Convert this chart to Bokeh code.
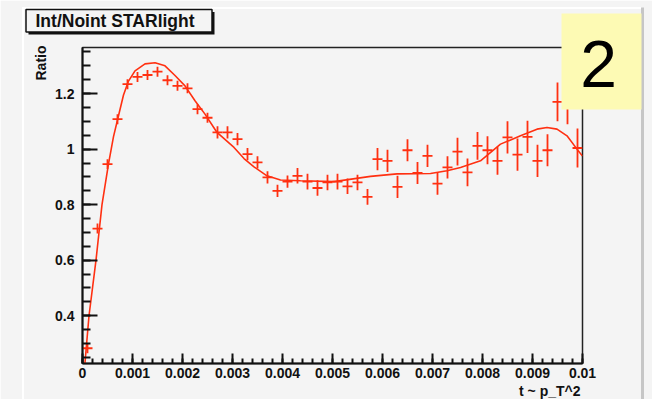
import numpy as np
from bokeh.plotting import figure
from bokeh.models import ColumnDataSource, FixedTicker, CustomJSTickFormatter, Range1d
from bokeh.core.properties import value
from bokeh.embed import file_html
from bokeh.resources import INLINE

# ---- data ----
bin_centers = [0.0001, 0.0003, 0.0005, 0.0007, 0.0009, 0.0011, 0.0013, 0.0015, 0.0017, 0.0019,
               0.0021, 0.0023, 0.0025, 0.0027, 0.0029, 0.0031, 0.0033, 0.0035, 0.0037, 0.0039,
               0.0041, 0.0043, 0.0045, 0.0047, 0.0049, 0.0051, 0.0053, 0.0055, 0.0057, 0.0059,
               0.0061, 0.0063, 0.0065, 0.0067, 0.0069, 0.0071, 0.0073, 0.0075, 0.0077, 0.0079,
               0.0081, 0.0083, 0.0085, 0.0087, 0.0089, 0.0091, 0.0093, 0.0095, 0.0097, 0.0099]
bin_half_width = 0.0001
ratio = [0.283, 0.714, 0.946, 1.108, 1.234, 1.260, 1.267, 1.279, 1.248, 1.228,
         1.219, 1.144, 1.113, 1.060, 1.060, 1.036, 0.982, 0.952, 0.898, 0.850,
         0.883, 0.904, 0.883, 0.860, 0.880, 0.883, 0.866, 0.880, 0.828, 0.964,
         0.958, 0.864, 0.996, 0.914, 0.976, 0.876, 0.934, 0.991, 0.916, 1.012,
         0.996, 0.958, 1.042, 0.980, 1.044, 0.958, 0.996, 1.170, 1.160, 1.004]
ratio_err = [0.018, 0.018, 0.018, 0.018, 0.018, 0.018, 0.018, 0.018, 0.018, 0.018,
             0.018, 0.018, 0.018, 0.022, 0.022, 0.022, 0.022, 0.022, 0.022, 0.022,
             0.022, 0.028, 0.028, 0.028, 0.028, 0.028, 0.028, 0.028, 0.028, 0.040,
             0.040, 0.040, 0.040, 0.040, 0.040, 0.040, 0.040, 0.050, 0.050, 0.050,
             0.050, 0.050, 0.058, 0.058, 0.058, 0.058, 0.058, 0.070, 0.070, 0.070]

fit_x = [0.00004, 0.00013, 0.00027, 0.00039, 0.00052, 0.00062, 0.00072, 0.00082, 0.00092,
         0.00105, 0.00125, 0.00145, 0.00165, 0.00185, 0.00205, 0.00225, 0.00245, 0.00269,
         0.00303, 0.00323, 0.00343, 0.00369, 0.00396, 0.00436, 0.00503, 0.00576, 0.00629,
         0.00696, 0.00729, 0.00756, 0.00796, 0.00836, 0.00876, 0.00909, 0.00929, 0.00949,
         0.00969, 0.00989, 0.01000]
fit_y = [0.210, 0.400, 0.600, 0.800, 0.947, 1.045, 1.120, 1.195, 1.245,
         1.282, 1.307, 1.311, 1.300, 1.265, 1.228, 1.174, 1.126, 1.060,
         1.006, 0.966, 0.936, 0.904, 0.889, 0.886, 0.883, 0.902, 0.911,
         0.912, 0.922, 0.934, 0.958, 1.018, 1.048, 1.072, 1.078, 1.072,
         1.048, 1.000, 0.975]

x_major_ticks = [0, 0.001, 0.002, 0.003, 0.004, 0.005, 0.006, 0.007, 0.008, 0.009, 0.01]
y_major_ticks = [0.4, 0.6, 0.8, 1.0, 1.2]

title_text = "Int/Noint STARlight"
x_title = "t ~ p_T^2"
y_title = "Ratio"
pad_number = "2"

# ---- styling ----
BG = "#f4f4f4"
RED = "#ff3011"
INK = "#111111"

# ================= main plot =================
p = figure(width=652, height=399, output_backend="svg", toolbar_location=None,
           x_range=Range1d(0, 0.01), y_range=Range1d(0.228, 1.366),
           min_border_left=82, min_border_right=70, min_border_top=47, min_border_bottom=36)
p.background_fill_color = BG
p.border_fill_color = BG
p.outline_line_color = "#222222"
p.outline_line_width = 1.5
p.xgrid.visible = False
p.ygrid.visible = False

fmt = CustomJSTickFormatter(code="return String(Number(tick.toPrecision(6)));")

x_minor = list(np.round(np.arange(0, 0.01001, 0.0002), 6))
y_minor = list(np.round(np.arange(0.25, 1.36, 0.05), 4))

xa = p.xaxis[0]
xa.ticker = FixedTicker(ticks=x_major_ticks, minor_ticks=x_minor)
xa.formatter = fmt
xa.major_tick_in = 10
xa.major_tick_out = 0
xa.minor_tick_in = 5
xa.minor_tick_out = 0
xa.major_label_standoff = 4

ya = p.yaxis[0]
ya.ticker = FixedTicker(ticks=y_major_ticks, minor_ticks=y_minor)
ya.formatter = fmt
ya.major_tick_in = 15
ya.major_tick_out = 0
ya.minor_tick_in = 8
ya.minor_tick_out = 0
ya.major_label_standoff = 8

for ax in (xa, ya):
    ax.axis_line_color = INK
    ax.axis_line_width = 2
    ax.major_tick_line_color = INK
    ax.major_tick_line_width = 2
    ax.minor_tick_line_color = INK
    ax.minor_tick_line_width = 2
    ax.major_label_text_font = "Liberation Sans"
    ax.major_label_text_font_style = "bold"
    ax.major_label_text_font_size = "14px"
    ax.major_label_text_color = INK

xc = np.array(bin_centers)
yv = np.array(ratio)
ye = np.array(ratio_err)
src = ColumnDataSource(dict(x=xc, y=yv, x0=xc - bin_half_width, x1=xc + bin_half_width,
                            y0=yv - ye, y1=yv + ye))
p.segment(x0="x0", y0="y", x1="x1", y1="y", source=src, line_color=RED, line_width=1.8)
p.segment(x0="x", y0="y0", x1="x", y1="y1", source=src, line_color=RED, line_width=1.8)
p.line(fit_x, fit_y, line_color=RED, line_width=1.6)

# ================= overlay for canvas decorations (pixel coords, y down) =================
o = figure(width=652, height=399, output_backend="svg", toolbar_location=None,
           x_range=Range1d(0, 652), y_range=Range1d(399, 0),
           x_axis_type=None, y_axis_type=None, min_border=0,
           min_border_left=0, min_border_right=0, min_border_top=0, min_border_bottom=0)
o.background_fill_alpha = 0
o.border_fill_alpha = 0
o.outline_line_color = None
o.styles = {"position": "absolute", "top": "0px", "left": "0px", "z-index": "2"}

# canvas bevel lines
o.quad(left=[21.5, 21.5], right=[23.5, 641], top=[7, 6.5], bottom=[399, 8.5],
       fill_color="white", line_color=None)
o.quad(left=[640.5], right=[643.5], top=[7], bottom=[399], fill_color="#c6c6c6", line_color=None)
# title pave with shadow
o.quad(left=[28], right=[214], top=[11.5], bottom=[34], fill_color=INK, line_color=None)
o.quad(left=[25.5], right=[211.5], top=[9], bottom=[31.5], fill_color=BG,
       line_color=INK, line_width=1.5)
o.text(x=[35], y=[20.5], text=[title_text], text_font=value("Liberation Sans"),
       text_font_style="bold", text_font_size="17.5px", text_color=INK,
       text_align="left", text_baseline="middle")
# yellow pad-number box
o.quad(left=[561], right=[641], top=[13], bottom=[109], fill_color="#fdfab4", line_color=None)
o.text(x=[598], y=[63], text=[pad_number], text_font=value("Liberation Sans"),
       text_font_size="66px", text_color="black", text_align="center", text_baseline="middle")
# axis titles
o.text(x=[40], y=[45], text=[y_title], angle=np.pi / 2, text_font=value("Liberation Sans"),
       text_font_style="bold", text_font_size="14px", text_color=INK,
       text_align="right", text_baseline="middle")
o.text(x=[580], y=[390], text=[x_title], text_font=value("Liberation Sans"),
       text_font_style="bold", text_font_size="14px", text_color=INK,
       text_align="right", text_baseline="middle")

open("out.html", "w").write(file_html((p, o), INLINE))
